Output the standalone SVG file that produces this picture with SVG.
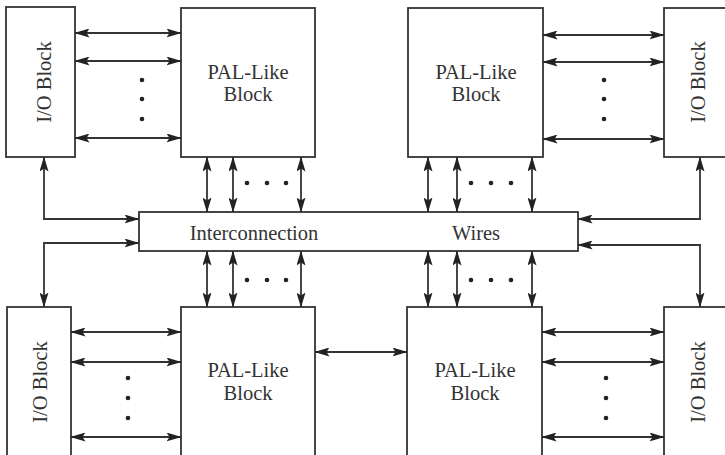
<svg xmlns="http://www.w3.org/2000/svg" width="725" height="455" viewBox="0 0 725 455">
<defs>
<style>
.box{fill:#fff;stroke:#333;stroke-width:1.8}
.lbl{font-family:"Liberation Serif","Times New Roman",serif;font-size:20.5px;fill:#333;text-anchor:middle}
.cn{fill:none;stroke:#333;stroke-width:1.8;marker-start:url(#ah);marker-end:url(#ah)}
.dot{fill:#222}
</style>
<marker id="ah" viewBox="0 0 15 9" markerWidth="15" markerHeight="9" refX="14.5" refY="4.5" orient="auto-start-reverse" markerUnits="userSpaceOnUse">
<path d="M0,0 L15,4.5 L0,9 L3,4.5 z" fill="#222"/>
</marker>
</defs>
<rect width="725" height="455" fill="#fff"/>

<g id="io-tl"><rect class="box" x="6" y="7" width="69" height="150"/><text class="lbl" transform="translate(51,82) rotate(-90)">I/O Block</text></g>
<g id="pal-tl"><rect class="box" x="181" y="8" width="134" height="149"/><text class="lbl" x="248" y="79">PAL-Like</text><text class="lbl" x="248" y="101">Block</text></g>
<g id="pal-tr"><rect class="box" x="408" y="8" width="135" height="149"/><text class="lbl" x="476" y="79">PAL-Like</text><text class="lbl" x="476" y="101">Block</text></g>
<g id="io-tr"><rect class="box" x="664" y="8" width="70" height="149"/><text class="lbl" transform="translate(705,82) rotate(-90)">I/O Block</text></g>

<g id="interconnect"><rect class="box" x="139" y="212" width="439" height="39"/><text class="lbl" x="254" y="240">Interconnection</text><text class="lbl" x="476" y="240">Wires</text></g>

<g id="io-bl"><rect class="box" x="7" y="307" width="64" height="160"/><text class="lbl" transform="translate(47,382) rotate(-90)">I/O Block</text></g>
<g id="pal-bl"><rect class="box" x="181" y="307" width="134" height="160"/><text class="lbl" x="248" y="377">PAL-Like</text><text class="lbl" x="248" y="400">Block</text></g>
<g id="pal-br"><rect class="box" x="407" y="307" width="135" height="160"/><text class="lbl" x="475" y="377">PAL-Like</text><text class="lbl" x="475" y="400">Block</text></g>
<g id="io-br"><rect class="box" x="664" y="307" width="70" height="160"/><text class="lbl" transform="translate(705,382) rotate(-90)">I/O Block</text></g>

<g id="connectors">
<line class="cn" x1="75" y1="33" x2="181" y2="33"/>
<line class="cn" x1="75" y1="61" x2="181" y2="61"/>
<line class="cn" x1="75" y1="138" x2="181" y2="138"/>
<line class="cn" x1="543" y1="35" x2="664" y2="35"/>
<line class="cn" x1="543" y1="62" x2="664" y2="62"/>
<line class="cn" x1="543" y1="139" x2="664" y2="139"/>

<line class="cn" x1="207" y1="157" x2="207" y2="212"/>
<line class="cn" x1="233" y1="157" x2="233" y2="212"/>
<line class="cn" x1="301" y1="157" x2="301" y2="212"/>
<line class="cn" x1="428" y1="157" x2="428" y2="212"/>
<line class="cn" x1="457" y1="157" x2="457" y2="212"/>
<line class="cn" x1="532" y1="157" x2="532" y2="212"/>

<line class="cn" x1="207" y1="251" x2="207" y2="307"/>
<line class="cn" x1="233" y1="251" x2="233" y2="307"/>
<line class="cn" x1="301" y1="251" x2="301" y2="307"/>
<line class="cn" x1="428" y1="251" x2="428" y2="307"/>
<line class="cn" x1="457" y1="251" x2="457" y2="307"/>
<line class="cn" x1="532" y1="251" x2="532" y2="307"/>

<path class="cn" d="M44,157 L44,219 L139,219"/>
<path class="cn" d="M139,243 L44,243 L44,307"/>
<path class="cn" d="M700,157 L700,219 L578,219"/>
<path class="cn" d="M578,245 L700,245 L700,307"/>

<line class="cn" x1="71" y1="332" x2="181" y2="332"/>
<line class="cn" x1="71" y1="362" x2="181" y2="362"/>
<line class="cn" x1="71" y1="437" x2="181" y2="437"/>
<line class="cn" x1="542" y1="332" x2="664" y2="332"/>
<line class="cn" x1="542" y1="362" x2="664" y2="362"/>
<line class="cn" x1="542" y1="437" x2="664" y2="437"/>
<line class="cn" x1="315" y1="352" x2="407" y2="352"/>
</g>

<g id="dots">
<circle class="dot" cx="142" cy="80" r="2.3"/><circle class="dot" cx="142" cy="99" r="2.3"/><circle class="dot" cx="142" cy="119" r="2.3"/>
<circle class="dot" cx="604" cy="80" r="2.3"/><circle class="dot" cx="604" cy="99" r="2.3"/><circle class="dot" cx="604" cy="119" r="2.3"/>
<circle class="dot" cx="247" cy="183" r="2.3"/><circle class="dot" cx="267" cy="183" r="2.3"/><circle class="dot" cx="286" cy="183" r="2.3"/>
<circle class="dot" cx="471" cy="183" r="2.3"/><circle class="dot" cx="491" cy="183" r="2.3"/><circle class="dot" cx="511" cy="183" r="2.3"/>
<circle class="dot" cx="247" cy="280" r="2.3"/><circle class="dot" cx="267" cy="280" r="2.3"/><circle class="dot" cx="286" cy="280" r="2.3"/>
<circle class="dot" cx="471" cy="280" r="2.3"/><circle class="dot" cx="491" cy="280" r="2.3"/><circle class="dot" cx="511" cy="280" r="2.3"/>
<circle class="dot" cx="128" cy="378" r="2.3"/><circle class="dot" cx="128" cy="398" r="2.3"/><circle class="dot" cx="128" cy="418" r="2.3"/>
<circle class="dot" cx="606" cy="378" r="2.3"/><circle class="dot" cx="606" cy="398" r="2.3"/><circle class="dot" cx="606" cy="418" r="2.3"/>
</g>
</svg>
